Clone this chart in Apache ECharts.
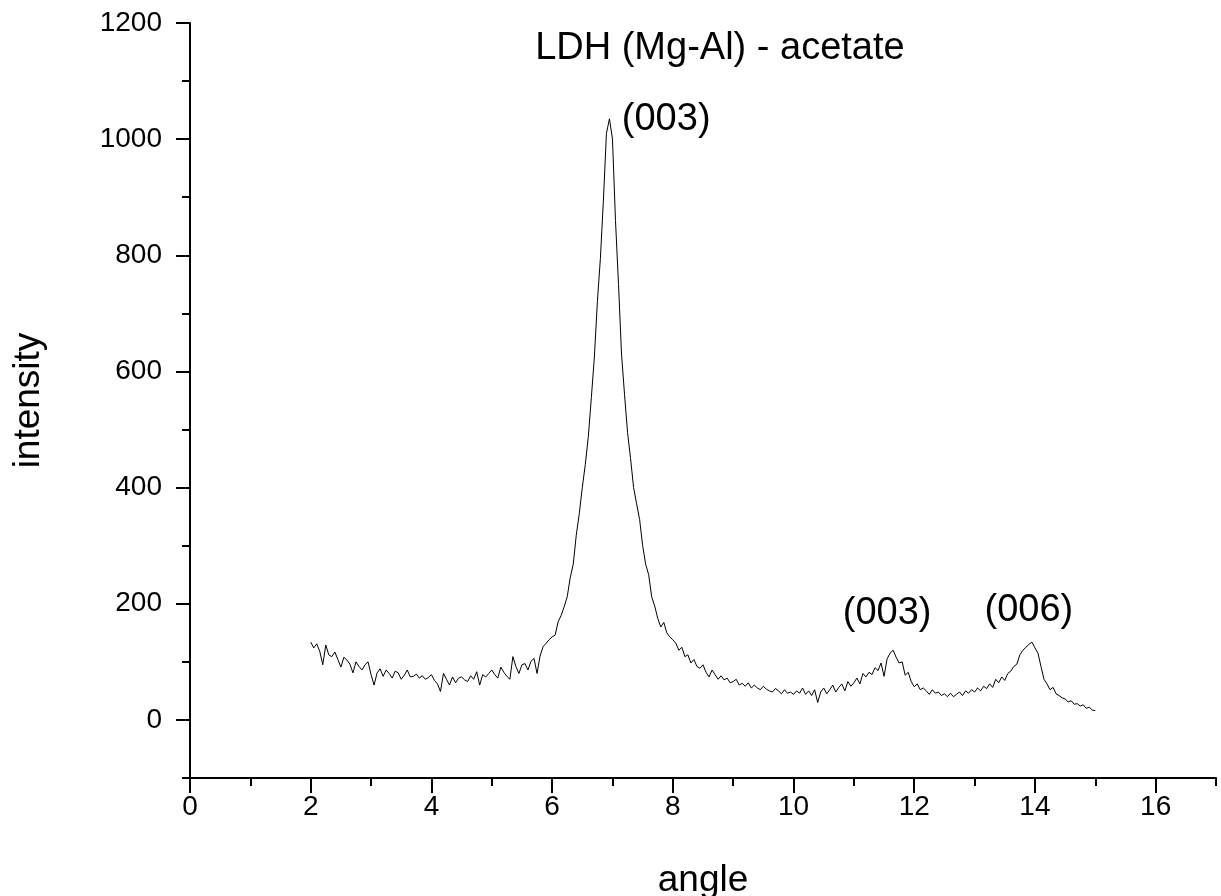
<!DOCTYPE html>
<html>
<head>
<meta charset="utf-8">
<style>html,body{margin:0;padding:0;background:#fff;}#chart{width:1221px;height:896px;}</style>
<script src="https://cdn.jsdelivr.net/npm/echarts@6/dist/echarts.min.js"></script>
</head>
<body>
<div id="chart"></div>
<script>
// sampling grid of the diffractogram: 2.00 .. 15.00 deg, 0.05 deg step
var angleStart = 2.0;
var angleStep = 0.05;
// intensity, one row per degree
var intensity = [
  134,124,131,118,95,129,112,109,117,104,91,108,103,96,81,100,92,86,95,100,
  78,60,81,88,75,86,80,72,84,81,70,77,86,74,75,79,72,76,70,73,
  78,68,62,49,80,70,60,74,64,72,74,69,66,76,70,83,60,78,74,80,
  86,78,72,91,82,75,70,109,92,80,95,97,86,101,106,80,110,126,132,138,
  143,146,169,180,195,212,245,268,318,355,400,440,488,555,625,720,795,895,1010,1035,
  1000,860,750,630,560,495,450,400,372,345,300,268,250,212,196,175,160,168,150,143,
  138,132,120,125,109,112,98,104,92,89,95,82,74,86,78,70,76,69,72,64,
  66,70,60,63,58,64,55,60,55,52,58,53,50,48,54,50,45,52,46,48,
  44,50,46,55,44,50,42,52,30,48,55,45,52,60,48,56,62,50,66,58,
  64,72,62,80,74,82,78,90,85,98,75,105,115,120,108,98,100,77,82,66,
  57,62,52,55,50,44,52,46,48,42,45,40,46,40,44,48,42,50,46,52,
  48,55,50,58,54,62,56,70,64,74,68,80,84,92,96,112,120,125,130,134,
  124,115,92,70,62,52,56,45,42,38,36,31,33,27,28,24,26,20,22,17,16
];
var majorXTicks = [0, 2, 4, 6, 8, 10, 12, 14, 16];
var majorYTicks = [0, 200, 400, 600, 800, 1000, 1200];
var peakLabels = ['(003)', '(003)', '(006)'];
var peakLabelAngles = [7.89, 11.55, 13.9];
var peakLabelIntensities = [1033, 184, 189];
var titleText = 'LDH (Mg-Al) - acetate';
var titleAnchor = [8.78, 1156];

var seriesData = intensity.map(function (v, i) {
  return [+(angleStart + i * angleStep).toFixed(2), v];
});

var FONT = '"Liberation Sans", Arial, sans-serif';
var black = '#000';

var markData = peakLabels.map(function (t, i) {
  return { name: t, coord: [peakLabelAngles[i], peakLabelIntensities[i]] };
});
markData.push({ name: titleText, coord: titleAnchor });

var plain = function (v) { return String(v); };

var chart = echarts.init(document.getElementById('chart'), null, { renderer: 'canvas' });
chart.setOption({
  animation: false,
  backgroundColor: '#fff',
  grid: { left: 190, right: 5, top: 23, bottom: 118, containLabel: false, outerBoundsMode: 'none' },
  xAxis: [{
    type: 'value', min: 0, max: 17, interval: 1, position: 'bottom',
    name: 'angle', nameLocation: 'middle', nameGap: 84,
    nameTextStyle: { fontSize: 37, color: black, fontFamily: FONT },
    axisLine: { show: true, onZero: false, lineStyle: { color: black, width: 2 } },
    axisTick: { show: true, length: 15, customValues: majorXTicks, lineStyle: { color: black, width: 2 } },
    axisLabel: { customValues: majorXTicks, formatter: plain, fontSize: 28, color: black, margin: 15, fontFamily: FONT },
    splitLine: { show: false }
  }, {
    type: 'value', min: 0, max: 17, interval: 1, position: 'bottom',
    axisLine: { show: false, onZero: false },
    axisTick: { show: true, length: 8, lineStyle: { color: black, width: 2 } },
    axisLabel: { show: false },
    splitLine: { show: false }
  }],
  yAxis: [{
    type: 'value', min: -100, max: 1200, interval: 100, position: 'left',
    name: 'intensity', nameLocation: 'middle', nameGap: 143,
    nameTextStyle: { fontSize: 37, color: black, fontFamily: FONT },
    axisLine: { show: true, onZero: false, lineStyle: { color: black, width: 2 } },
    axisTick: { show: true, length: 14, customValues: majorYTicks, lineStyle: { color: black, width: 2 } },
    axisLabel: { customValues: majorYTicks, formatter: plain, fontSize: 28, color: black, margin: 28, fontFamily: FONT },
    splitLine: { show: false }
  }, {
    type: 'value', min: -100, max: 1200, interval: 100, position: 'left',
    axisLine: { show: false, onZero: false },
    axisTick: { show: true, length: 8, lineStyle: { color: black, width: 2 } },
    axisLabel: { show: false },
    splitLine: { show: false }
  }],
  series: [{
    type: 'line',
    xAxisIndex: 0, yAxisIndex: 0,
    data: seriesData,
    showSymbol: false,
    symbol: 'none',
    lineStyle: { color: black, width: 1 },
    silent: true,
    markPoint: {
      symbol: 'circle', symbolSize: 0,
      label: { show: true, position: 'inside', formatter: '{b}', fontSize: 38, color: black, fontFamily: FONT },
      data: markData
    }
  }]
});
</script>
</body>
</html>
